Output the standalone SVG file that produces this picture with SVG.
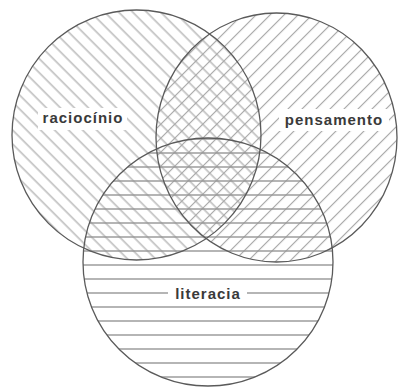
<svg xmlns="http://www.w3.org/2000/svg" width="398" height="387" viewBox="0 0 398 387">
  <style>
    .outline { fill: none; stroke: #5a5a5a; stroke-width: 1.3; }
    .label { font-family: "Liberation Sans", Arial, sans-serif; font-weight: bold; font-size: 15px; letter-spacing: 1px; fill: #3a3a3a; text-anchor: middle; }
    .labelbg { fill: #ffffff; }
  </style>
  <defs>
    <pattern id="hatchBack" patternUnits="userSpaceOnUse" width="10" height="9.9" patternTransform="rotate(45)">
      <rect x="0" y="3.34" width="10" height="1.1" fill="#a4a4a4"/>
    </pattern>
    <pattern id="hatchFwd" patternUnits="userSpaceOnUse" width="10" height="9.9" patternTransform="rotate(-45)">
      <rect x="0" y="2.99" width="10" height="1.1" fill="#a8a8a8"/>
    </pattern>
    <pattern id="hatchHoriz" patternUnits="userSpaceOnUse" width="14" height="14">
      <rect x="0" y="12.3" width="14" height="1.4" fill="#959595"/>
    </pattern>
  </defs>
  <rect x="0" y="0" width="398" height="387" fill="#ffffff"/>
  <g id="hatching">
    <ellipse cx="136.5" cy="135" rx="124.5" ry="125" fill="url(#hatchBack)"/>
    <ellipse cx="276.5" cy="137.5" rx="120.5" ry="124.5" fill="url(#hatchFwd)"/>
    <ellipse cx="208" cy="262" rx="125" ry="124" fill="url(#hatchHoriz)"/>
  </g>
  <g id="raciocinio">
    <ellipse class="outline" cx="136.5" cy="135" rx="124.5" ry="125"/>
    <rect class="labelbg" x="38" y="108" width="89" height="22"/>
    <text class="label" x="83" y="123">raciocínio</text>
  </g>
  <g id="pensamento">
    <ellipse class="outline" cx="276.5" cy="137.5" rx="120.5" ry="124.5"/>
    <rect class="labelbg" x="279" y="109" width="110" height="22"/>
    <text class="label" x="334" y="125">pensamento</text>
  </g>
  <g id="literacia">
    <ellipse class="outline" cx="208" cy="262" rx="125" ry="124"/>
    <rect class="labelbg" x="168" y="285" width="79" height="18"/>
    <text class="label" x="208" y="299">literacia</text>
  </g>
</svg>
